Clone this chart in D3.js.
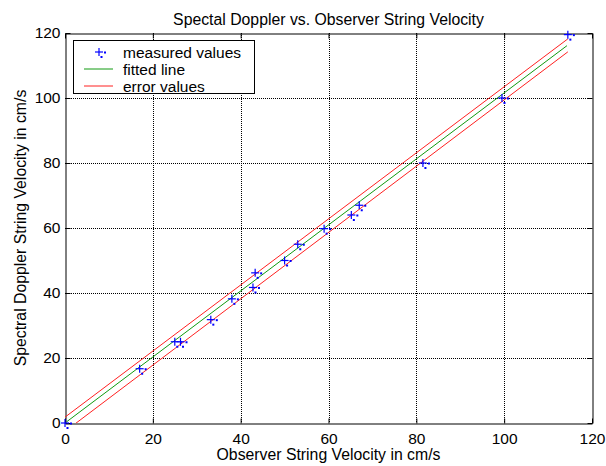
<!DOCTYPE html>
<html>
<head>
<meta charset="utf-8">
<script src="https://cdn.jsdelivr.net/npm/d3@7"></script>
<style>
  html, body { margin: 0; padding: 0; background: #fff; }
  svg { display: block; font-family: Arial, "Liberation Sans", Helvetica, sans-serif; }
</style>
</head>
<body>
<svg id="chart" width="606" height="466"></svg>
<script>
// Measured string velocities (observer vs. spectral Doppler), cm/s
const measuredX = [0, 17, 25, 26.3, 33.2, 38, 42.8, 43.3, 50, 53, 59, 65.2, 67, 81.5, 99.5, 114.5];
const measuredY = [0, 16.7, 25, 25, 31.8, 38.2, 41.7, 46.2, 50, 55, 59.8, 64, 67, 80, 100, 119.5];

// Least-squares fit and its error band (end points)
const fitX = [0.3, 114.3];
const fitY = [0.3, 116.1];
const upperX = [0, 114.5];
const upperY = [1.8, 118.2];
const lowerX = [0, 114.5];
const lowerY = [-2.6, 114.2];

const xTicks = [0, 20, 40, 60, 80, 100, 120];
const yTicks = [0, 20, 40, 60, 80, 100, 120];

const titleText = "Spectal Doppler vs. Observer String Velocity";
const xLabelText = "Observer String Velocity in cm/s";
const yLabelText = "Spectral Doppler String Velocity in cm/s";
const legendLabels = ["measured values", "fitted line", "error values"];

(function draw() {
  const svg = d3.select("#chart");
  const L = 65, R = 592, T = 33, B = 423;
  const labelFont = 15.8, tickFont = 15.5;
  const blue = "#0000ff", green = "#109a10", red = "#ff2020";

  const x = d3.scaleLinear().domain([0, 120]).range([L, R]);
  const y = d3.scaleLinear().domain([0, 120]).range([B, T]);

  svg.append("defs").append("clipPath").attr("id", "plotClip")
    .append("rect").attr("x", L).attr("y", T)
    .attr("width", R - L).attr("height", B - T);

  // dotted grid
  const grid = svg.append("g").attr("stroke", "#000").attr("stroke-dasharray", "1,1").attr("stroke-width", 1);
  grid.selectAll("line.gx").data(xTicks.slice(1, -1)).join("line").attr("class", "gx")
    .attr("x1", d => Math.round(x(d)) + 0.5).attr("x2", d => Math.round(x(d)) + 0.5)
    .attr("y1", T).attr("y2", B);
  grid.selectAll("line.gy").data(yTicks.slice(1, -1)).join("line").attr("class", "gy")
    .attr("y1", d => Math.round(y(d)) + 0.5).attr("y2", d => Math.round(y(d)) + 0.5)
    .attr("x1", L).attr("x2", R);

  // axes with inward ticks on all four sides
  svg.append("g").attr("transform", `translate(0,${B + 0.5})`)
    .call(d3.axisBottom(x).tickValues(xTicks).tickSizeInner(-5).tickSizeOuter(0).tickPadding(9));
  svg.append("g").attr("transform", `translate(${L + 0.5},0)`)
    .call(d3.axisLeft(y).tickValues(yTicks).tickSizeInner(-5).tickSizeOuter(0).tickPadding(5));
  svg.append("g").attr("transform", `translate(0,${T + 0.5})`)
    .call(d3.axisTop(x).tickValues(xTicks).tickSizeInner(-5).tickSizeOuter(0).tickFormat(""));
  svg.append("g").attr("transform", `translate(${R + 0.5},0)`)
    .call(d3.axisRight(y).tickValues(yTicks).tickSizeInner(-5).tickSizeOuter(0).tickFormat(""));
  svg.selectAll(".domain").attr("stroke", "#000");
  svg.selectAll(".tick line").attr("stroke", "#000");
  svg.selectAll(".tick text").attr("font-size", tickFont).attr("fill", "#000")
    .attr("font-family", "Arial, 'Liberation Sans', sans-serif");

  // fitted line and error band
  const line = d3.line().x(d => x(d[0])).y(d => y(d[1]));
  const plot = svg.append("g").attr("clip-path", "url(#plotClip)");
  plot.append("path").datum(d3.zip(upperX, upperY)).attr("d", line)
    .attr("fill", "none").attr("stroke", red).attr("stroke-width", 1);
  plot.append("path").datum(d3.zip(lowerX, lowerY)).attr("d", line)
    .attr("fill", "none").attr("stroke", red).attr("stroke-width", 1);
  plot.append("path").datum(d3.zip(fitX, fitY)).attr("d", line)
    .attr("fill", "none").attr("stroke", green).attr("stroke-width", 1);

  // '+' marker with its small printed dot fragments
  function plus(g, cx, cy) {
    g.append("line").attr("x1", cx - 4).attr("x2", cx + 4).attr("y1", cy).attr("y2", cy)
      .attr("stroke", blue).attr("stroke-width", 1.2);
    g.append("line").attr("x1", cx).attr("x2", cx).attr("y1", cy - 4).attr("y2", cy + 4)
      .attr("stroke", blue).attr("stroke-width", 1.2);
    g.append("rect").attr("x", cx + 5).attr("y", cy - 0.5).attr("width", 2).attr("height", 2).attr("fill", blue);
    g.append("rect").attr("x", cx + 1.5).attr("y", cy + 4).attr("width", 2).attr("height", 2).attr("fill", blue);
  }
  const markers = svg.append("g");
  d3.zip(measuredX, measuredY).forEach(([a, b]) => plus(markers, x(a), y(b)));

  // title and axis labels
  svg.append("text").attr("x", (L + R) / 2).attr("y", 24.5).attr("text-anchor", "middle")
    .attr("font-size", labelFont).text(titleText);
  svg.append("text").attr("x", (L + R) / 2).attr("y", 460).attr("text-anchor", "middle")
    .attr("font-size", labelFont).text(xLabelText);
  svg.append("text").attr("transform", `translate(26,${(T + B) / 2}) rotate(-90)`)
    .attr("text-anchor", "middle").attr("font-size", labelFont).text(yLabelText);

  // legend
  const lg = svg.append("g");
  lg.append("rect").attr("x", 73.5).attr("y", 40.5).attr("width", 181).attr("height", 53)
    .attr("fill", "#fff").attr("stroke", "#000");
  const rowY = [52, 69, 86];
  plus(lg.append("g"), 99, rowY[0]);
  lg.append("line").attr("x1", 84).attr("x2", 113).attr("y1", rowY[1]).attr("y2", rowY[1])
    .attr("stroke", green);
  lg.append("line").attr("x1", 84).attr("x2", 113).attr("y1", rowY[2]).attr("y2", rowY[2])
    .attr("stroke", red);
  legendLabels.forEach((t, i) => {
    lg.append("text").attr("x", 123).attr("y", rowY[i] + 5.5).attr("font-size", tickFont).text(t);
  });
})();
</script>
</body>
</html>
